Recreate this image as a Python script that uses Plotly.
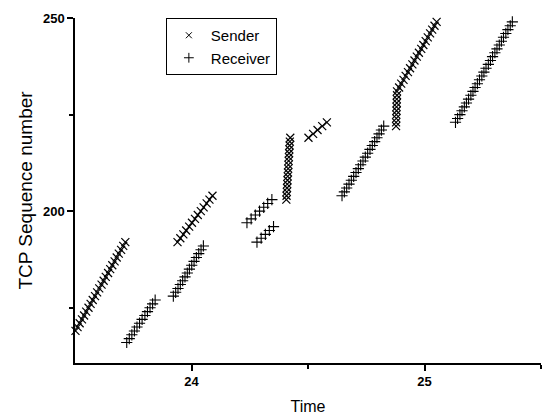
import plotly.graph_objects as go

# ---- data ----
# Sender (x markers): time [s], TCP sequence number
sender_time = [
    23.502, 23.511, 23.520, 23.530, 23.539, 23.548, 23.558, 23.567, 23.576, 23.586,
    23.595, 23.604, 23.614, 23.623, 23.632, 23.642, 23.651, 23.660, 23.670, 23.679,
    23.688, 23.698, 23.707, 23.716,
    23.940, 23.952, 23.965, 23.977, 23.990, 24.002, 24.015, 24.027, 24.040, 24.052,
    24.065, 24.077, 24.090,
    24.407, 24.408, 24.409, 24.410, 24.411, 24.412, 24.413, 24.414, 24.415, 24.416,
    24.417, 24.418, 24.419, 24.420, 24.421, 24.422, 24.424,
    24.502, 24.522, 24.541, 24.561, 24.581,
    24.878, 24.878, 24.879, 24.879, 24.880, 24.880, 24.881, 24.881, 24.882, 24.882,
    24.891, 24.900, 24.910, 24.919, 24.929, 24.938, 24.948, 24.957, 24.967, 24.976,
    24.986, 24.995, 25.005, 25.014, 25.024, 25.033, 25.043, 25.052,
]
sender_seq = [
    169, 170, 171, 172, 173, 174, 175, 176, 177, 178,
    179, 180, 181, 182, 183, 184, 185, 186, 187, 188,
    189, 190, 191, 192,
    192, 193, 194, 195, 196, 197, 198, 199, 200, 201,
    202, 203, 204,
    203, 204, 205, 206, 207, 208, 209, 210, 211, 212,
    213, 214, 215, 216, 217, 218, 219,
    219, 220, 221, 222, 223,
    222, 223, 224, 225, 226, 227, 228, 229, 230, 231,
    232, 233, 234, 235, 236, 237, 238, 239, 240, 241,
    242, 243, 244, 245, 246, 247, 248, 249,
]

# Receiver (+ markers)
receiver_time = [
    23.722, 23.733, 23.744, 23.755, 23.766, 23.777, 23.788, 23.800, 23.811, 23.822,
    23.833, 23.844,
    23.922, 23.932, 23.942, 23.952, 23.962, 23.972, 23.982, 23.991, 24.001, 24.011,
    24.021, 24.031, 24.041, 24.051,
    24.238, 24.256, 24.274, 24.292, 24.310, 24.327, 24.345,
    24.281, 24.299, 24.317, 24.334, 24.352,
    24.646, 24.656, 24.666, 24.676, 24.686, 24.696, 24.706, 24.716, 24.726, 24.736,
    24.746, 24.756, 24.766, 24.776, 24.786, 24.796, 24.805, 24.815, 24.825,
    25.133, 25.142, 25.152, 25.161, 25.171, 25.180, 25.189, 25.199, 25.208, 25.217,
    25.227, 25.236, 25.246, 25.255, 25.264, 25.274, 25.283, 25.292, 25.302, 25.311,
    25.321, 25.330, 25.339, 25.349, 25.358, 25.368, 25.377,
]
receiver_seq = [
    166, 167, 168, 169, 170, 171, 172, 173, 174, 175,
    176, 177,
    178, 179, 180, 181, 182, 183, 184, 185, 186, 187,
    188, 189, 190, 191,
    197, 198, 199, 200, 201, 202, 203,
    192, 193, 194, 195, 196,
    204, 205, 206, 207, 208, 209, 210, 211, 212, 213,
    214, 215, 216, 217, 218, 219, 220, 221, 222,
    223, 224, 225, 226, 227, 228, 229, 230, 231, 232,
    233, 234, 235, 236, 237, 238, 239, 240, 241, 242,
    243, 244, 245, 246, 247, 248, 249,
]

x_ticks = [24, 25]
y_ticks = [200, 250]

FONT = "Liberation Sans, Arial, sans-serif"

fig = go.Figure()
fig.add_trace(go.Scatter(
    x=sender_time, y=sender_seq, mode="markers", name="Sender", showlegend=False,
    marker=dict(symbol="x-thin-open", size=8, color="black",
                line=dict(color="black", width=1.2)),
    cliponaxis=False,
))
fig.add_trace(go.Scatter(
    x=receiver_time, y=receiver_seq, mode="markers", name="Receiver", showlegend=False,
    marker=dict(symbol="cross-thin-open", size=8, color="black",
                line=dict(color="black", width=1.1)),
    cliponaxis=False,
))
# legend entries (smaller symbols, as in the reference legend)
fig.add_trace(go.Scatter(
    x=[None], y=[None], mode="markers", name="Sender",
    marker=dict(symbol="x-thin-open", size=6, color="black",
                line=dict(color="black", width=1)),
))
fig.add_trace(go.Scatter(
    x=[None], y=[None], mode="markers", name="Receiver",
    marker=dict(symbol="cross-thin-open", size=7, color="black",
                line=dict(color="black", width=1)),
))

axis_font = dict(family=FONT, size=13, color="black", weight="bold")

fig.update_layout(
    width=542, height=416,
    margin=dict(l=75, r=1, t=18, b=53),
    paper_bgcolor="white", plot_bgcolor="white",
    showlegend=True,
    legend=dict(
        x=0.195, y=1.0, xanchor="left", yanchor="top",
        bgcolor="white", bordercolor="black", borderwidth=1,
        font=dict(family=FONT, size=15, color="black"),
        tracegroupgap=0, itemwidth=34,
    ),
    xaxis=dict(
        range=[23.5, 25.5], tickvals=x_ticks, ticktext=[str(v) for v in x_ticks],
        showgrid=False, zeroline=False, showline=True, linecolor="black", linewidth=1.5,
        ticks="outside", ticklen=6, tickwidth=1.5, tickcolor="black",
        tickfont=axis_font,
        minor=dict(tickvals=[24.5, 25.5], ticks="outside", ticklen=4, tickwidth=1.5, tickcolor="black"),
        title=dict(text="Time", font=dict(family=FONT, size=16, color="black"), standoff=12),
    ),
    yaxis=dict(
        range=[160.7, 250], tickvals=y_ticks, ticktext=[str(v) for v in y_ticks],
        showgrid=False, zeroline=False, showline=True, linecolor="black", linewidth=1.5,
        ticks="outside", ticklen=6, tickwidth=1.5, tickcolor="black",
        tickfont=axis_font,
        minor=dict(tickvals=[175, 225], ticks="outside", ticklen=4, tickwidth=1.5, tickcolor="black"),
        title=dict(text="TCP Sequence number", font=dict(family=FONT, size=19, color="black"), standoff=5),
    ),
)

fig.write_html("out.html")
